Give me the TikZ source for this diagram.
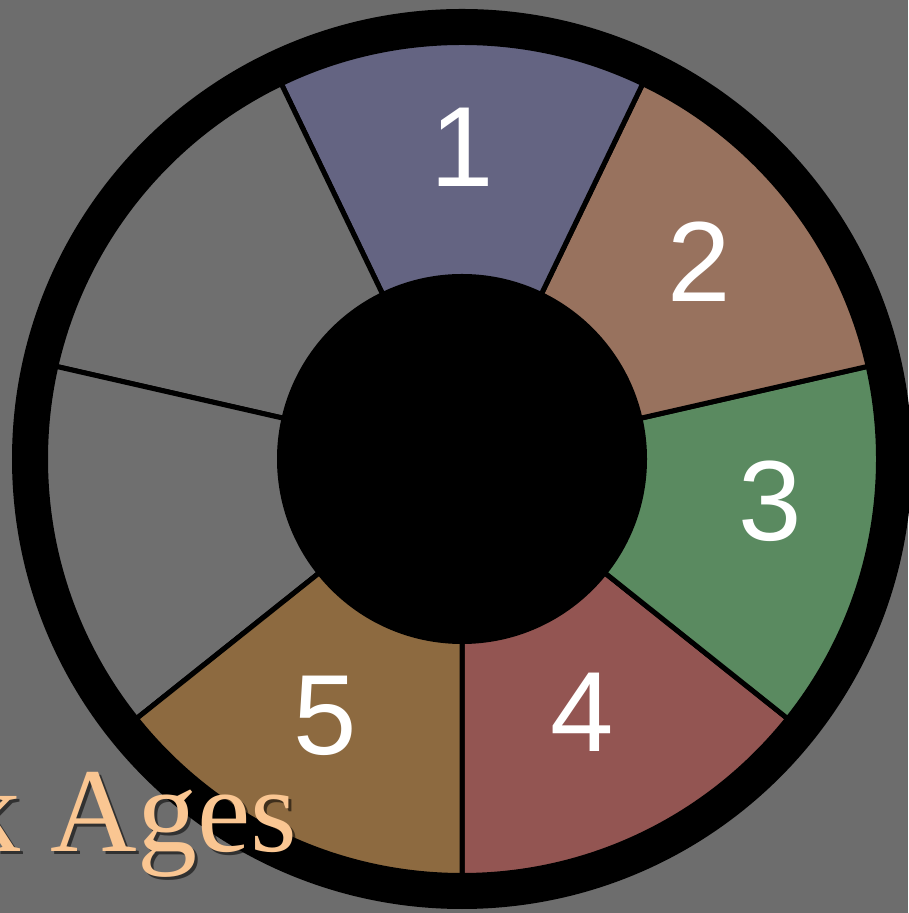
\documentclass[tikz,border=0pt]{standalone}
\usepackage{fontspec}
\setmainfont{Liberation Serif}
\newfontfamily\numfont{Liberation Sans}
\definecolor{bg}{HTML}{6D6D6D}
\definecolor{wgray}{HTML}{6F6F6F}
\definecolor{wone}{HTML}{646482}
\definecolor{wtwo}{HTML}{98725E}
\definecolor{wthree}{HTML}{5A8A60}
\definecolor{wfour}{HTML}{935552}
\definecolor{wfive}{HTML}{8D6A40}
\definecolor{peach}{HTML}{FAC692}
\tikzset{
  wedge/.style={draw=black, line width=2.5pt, line join=miter},
  numlabel/.style={text=white, font=\numfont\fontsize{57}{57}\selectfont, inner sep=0pt, anchor=base},
  titletext/.style={font=\fontsize{60}{60}\selectfont, inner sep=0pt, anchor=base east},
}
\begin{document}
\begin{tikzpicture}[x=0.5pt,y=0.5pt]
\fill[bg] (0,0) rectangle (908,913);
\useasboundingbox (0,0) rectangle (908,913);
\coordinate (c) at (462,454);
% wedges: start angle -90, step 360/7
\foreach \col [count=\i from 0] in {wfour,wthree,wtwo,wone,wgray,wgray,wfive}{
  \pgfmathsetmacro{\aa}{-90+\i*360/7}
  \pgfmathsetmacro{\ab}{-90+(\i+1)*360/7}
  \filldraw[wedge, fill=\col] (c) -- ++(\aa:216pt) arc[start angle=\aa, end angle=\ab, radius=216pt] -- cycle;
}
% outer ring
\draw[black, line width=18pt] (c) circle[radius=216pt];
% inner hub
\fill[black] (c) circle[radius=92.5pt];
% numbers
\node[numlabel] (n1) at (462,726) {1};
\node[numlabel] (n2) at (699,611) {2};
\node[numlabel] (n3) at (770,372) {3};
\node[numlabel] (n4) at (582,161) {4};
\node[numlabel] (n5) at (325,158) {5};
% title fragment with shadow
\node[titletext, text=black, opacity=0.55] (tshadow) at (301,58) {k Ages};
\node[titletext, text=peach] (title) at (298,61) {k Ages};
\end{tikzpicture}
\end{document}
